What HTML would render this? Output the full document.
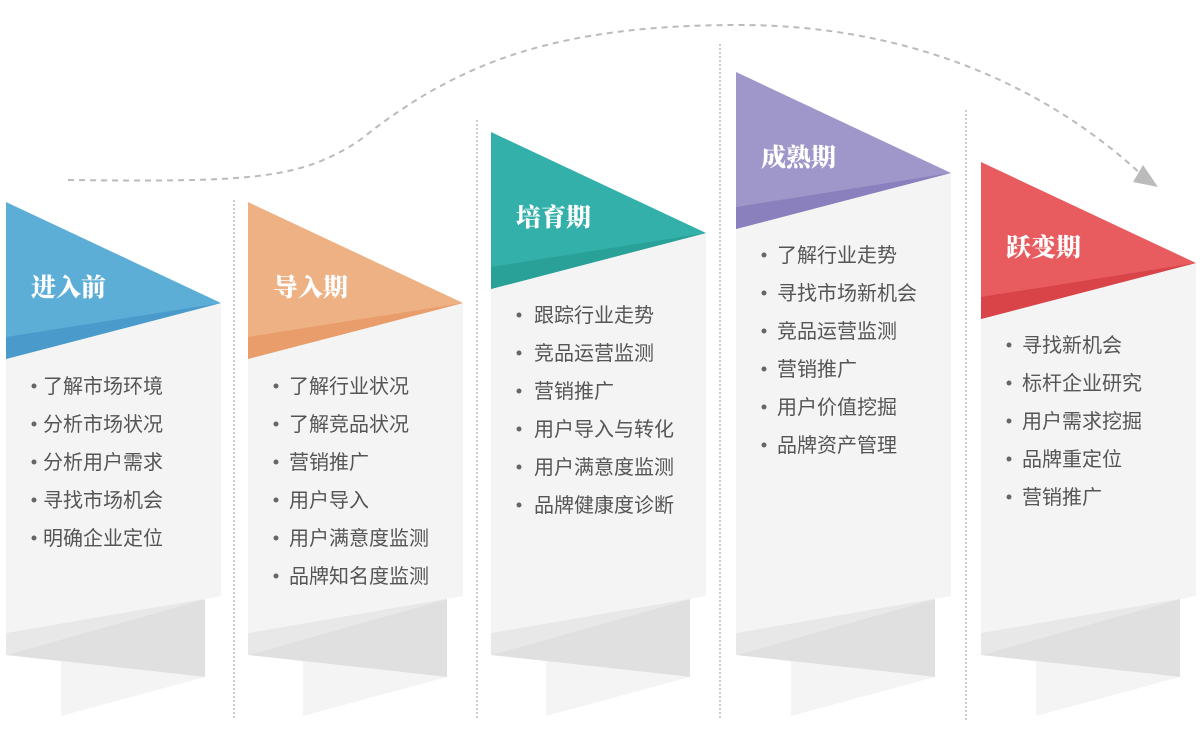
<!DOCTYPE html>
<html><head><meta charset="utf-8"><style>
html,body{margin:0;padding:0;background:#fff;}
svg{display:block}
.t{font-family:"Liberation Serif","Noto Serif CJK SC",serif;font-weight:900;font-size:25px;fill:#fff}
.l{font-family:"Liberation Sans","Noto Sans CJK SC",sans-serif;font-size:20px;fill:#555}
</style></head><body>
<svg width="1200" height="730" viewBox="0 0 1200 730" xmlns="http://www.w3.org/2000/svg">
<g stroke="#bbb" stroke-width="1.5" stroke-dasharray="2 2">
<line x1="234" y1="200" x2="234" y2="720"/>
<line x1="477" y1="120" x2="477" y2="720"/>
<line x1="720" y1="44" x2="720" y2="720"/>
<line x1="966" y1="110" x2="966" y2="720"/>
</g>
<path d="M68,180 C250,182 300,180 360,140 C460,60 560,25 740,25 C900,25 1040,80 1143,176" fill="none" stroke="#bbb" stroke-width="2" stroke-dasharray="6 5"/>
<polygon points="1133,182 1158,187 1143,165" fill="#bbb"/>

<defs>
<g id="base">
<polygon points="0,157 215,101 215,394 0,431" fill="#f4f4f4"/>
<polygon points="0,431 215,394 199,397 0,453" fill="#e8e8e8"/>
<polygon points="0,453 199,397 199,475" fill="#e0e0e0"/>
<polygon points="55,459 199,475 55,514" fill="#f4f4f4"/>
</g>
</defs>

<g transform="translate(6,202)">
<use href="#base"/>
<polygon points="0,0 215,101 0,157" fill="#5caed7"/>
<polygon points="0,135 215,101 0,157" fill="#4a9bcb"/>
<text class="t" x="25" y="94">进入前</text>
</g>
<g transform="translate(248,202)">
<use href="#base"/>
<polygon points="0,0 215,101 0,157" fill="#edb184"/>
<polygon points="0,135 215,101 0,157" fill="#e89d6b"/>
<text class="t" x="25" y="94">导入期</text>
</g>
<g transform="translate(491,132)">
<use href="#base" transform="translate(0,70)"/>
<polygon points="0,157 215,101 215,171 0,227" fill="#f4f4f4"/>
<polygon points="0,0 215,101 0,157" fill="#34b0aa"/>
<polygon points="0,135 215,101 0,157" fill="#29a098"/>
<text class="t" x="25" y="94">培育期</text>
</g>
<g transform="translate(736,72)">
<use href="#base" transform="translate(0,130)"/>
<polygon points="0,157 215,101 215,231 0,287" fill="#f4f4f4"/>
<polygon points="0,0 215,101 0,157" fill="#9f97c9"/>
<polygon points="0,135 215,101 0,157" fill="#8a80bd"/>
<text class="t" x="25" y="94">成熟期</text>
</g>
<g transform="translate(981,162)">
<use href="#base" transform="translate(0,40)"/>
<polygon points="0,157 215,101 215,141 0,197" fill="#f4f4f4"/>
<polygon points="0,0 215,101 0,157" fill="#e85c60"/>
<polygon points="0,135 215,101 0,157" fill="#d84448"/>
<text class="t" x="25" y="94">跃变期</text>
</g>

<g fill="#666">
<circle cx="34" cy="386" r="2.5"/><circle cx="34" cy="424" r="2.5"/><circle cx="34" cy="462" r="2.5"/><circle cx="34" cy="500" r="2.5"/><circle cx="34" cy="538" r="2.5"/>
<circle cx="276" cy="386" r="2.5"/><circle cx="276" cy="424" r="2.5"/><circle cx="276" cy="462" r="2.5"/><circle cx="276" cy="500" r="2.5"/><circle cx="276" cy="538" r="2.5"/><circle cx="276" cy="576" r="2.5"/>
<circle cx="519" cy="315" r="2.5"/><circle cx="519" cy="353" r="2.5"/><circle cx="519" cy="391" r="2.5"/><circle cx="519" cy="429" r="2.5"/><circle cx="519" cy="467" r="2.5"/><circle cx="519" cy="505" r="2.5"/>
<circle cx="764" cy="255" r="2.5"/><circle cx="764" cy="293" r="2.5"/><circle cx="764" cy="331" r="2.5"/><circle cx="764" cy="369" r="2.5"/><circle cx="764" cy="407" r="2.5"/><circle cx="764" cy="445" r="2.5"/>
<circle cx="1009" cy="345" r="2.5"/><circle cx="1009" cy="383" r="2.5"/><circle cx="1009" cy="421" r="2.5"/><circle cx="1009" cy="459" r="2.5"/><circle cx="1009" cy="497" r="2.5"/>
</g>
<g class="l">
<text x="43" y="393">了解市场环境</text>
<text x="43" y="431">分析市场状况</text>
<text x="43" y="469">分析用户需求</text>
<text x="43" y="507">寻找市场机会</text>
<text x="43" y="545">明确企业定位</text>

<text x="289" y="393">了解行业状况</text>
<text x="289" y="431">了解竞品状况</text>
<text x="289" y="469">营销推广</text>
<text x="289" y="507">用户导入</text>
<text x="289" y="545">用户满意度监测</text>
<text x="289" y="583">品牌知名度监测</text>

<text x="534" y="322">跟踪行业走势</text>
<text x="534" y="360">竞品运营监测</text>
<text x="534" y="398">营销推广</text>
<text x="534" y="436">用户导入与转化</text>
<text x="534" y="474">用户满意度监测</text>
<text x="534" y="512">品牌健康度诊断</text>

<text x="777" y="262">了解行业走势</text>
<text x="777" y="300">寻找市场新机会</text>
<text x="777" y="338">竞品运营监测</text>
<text x="777" y="376">营销推广</text>
<text x="777" y="414">用户价值挖掘</text>
<text x="777" y="452">品牌资产管理</text>

<text x="1022" y="352">寻找新机会</text>
<text x="1022" y="390">标杆企业研究</text>
<text x="1022" y="428">用户需求挖掘</text>
<text x="1022" y="466">品牌重定位</text>
<text x="1022" y="504">营销推广</text>
</g>
</svg>
</body></html>
